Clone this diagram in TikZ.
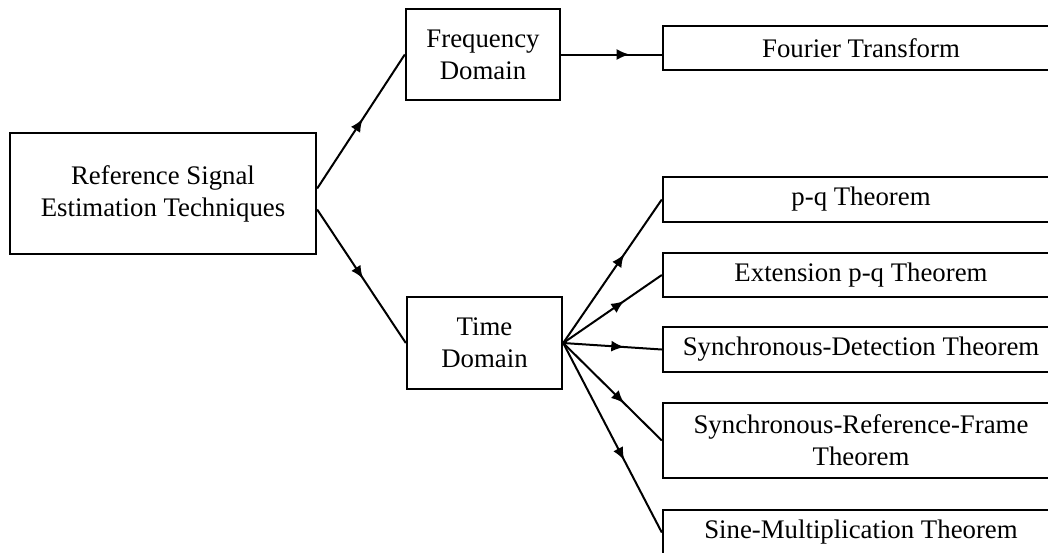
\documentclass[tikz,border=0pt]{standalone}
\usepackage{fontspec}
\setmainfont{Liberation Serif}
\usetikzlibrary{positioning, arrows.meta, decorations.markings}

\tikzset{
  block/.style={draw, line width=1.2pt, align=center, inner sep=0pt,
    font=\fontsize{13.4}{16}\selectfont},
  theorem/.style={block, minimum width=198pt, minimum height=22.5pt},
  link/.style={line width=1pt},
  midarrow/.style={postaction={decorate}, decoration={markings,
    mark=at position #1 with {\arrow{Latex[length=6.5pt,width=5.5pt]}}}}
}

\begin{document}
\begin{tikzpicture}[x=0.5pt, y=-0.5pt]
  \fill[white] (0,0) rectangle (1048,552);
  \useasboundingbox (0,0) rectangle (1048,552);
  \clip (0,0) rectangle (1048,552);
  % estimation techniques and the two domains
  \node[block, minimum width=153pt, minimum height=60.5pt] (ref) at (163,193.5) {Reference Signal\\Estimation Techniques};
  \node[block, minimum width=77pt, minimum height=45.5pt] (freq) at (483,54.5) {Frequency\\Domain};
  \node[block, minimum width=77.5pt, minimum height=46pt] (time) at (484.5,343) {Time\\Domain};
  % methods
  \node[theorem, minimum height=22pt] (fourier) at (861,48) {Fourier Transform};
  \node[theorem] (pq) at (861,199.5) {p-q Theorem};
  \node[theorem, minimum height=22pt] (ext) at (861,275) {Extension p-q Theorem};
  \node[theorem] (sd) at (861,349.5) {Synchronous-Detection Theorem};
  \node[theorem, minimum height=37.5pt] (srf) at (861,440.5) {Synchronous-Reference-Frame\\Theorem};
  \node[theorem] (sm) at (861,532.5) {Sine-Multiplication Theorem};
  % connectors
  \draw[link, midarrow=0.52] ([yshift=2.5pt]ref.east) -- (freq.west);
  \draw[link, midarrow=0.52] ([yshift=-8pt]ref.east) -- (time.west);
  \draw[link, midarrow=0.68] (freq.east) -- (freq.east -| fourier.west);
  \foreach \dest in {pq, ext, sd, srf, sm}
    \draw[link, midarrow=0.62] (time.east) -- (\dest.west);
\end{tikzpicture}
\end{document}
